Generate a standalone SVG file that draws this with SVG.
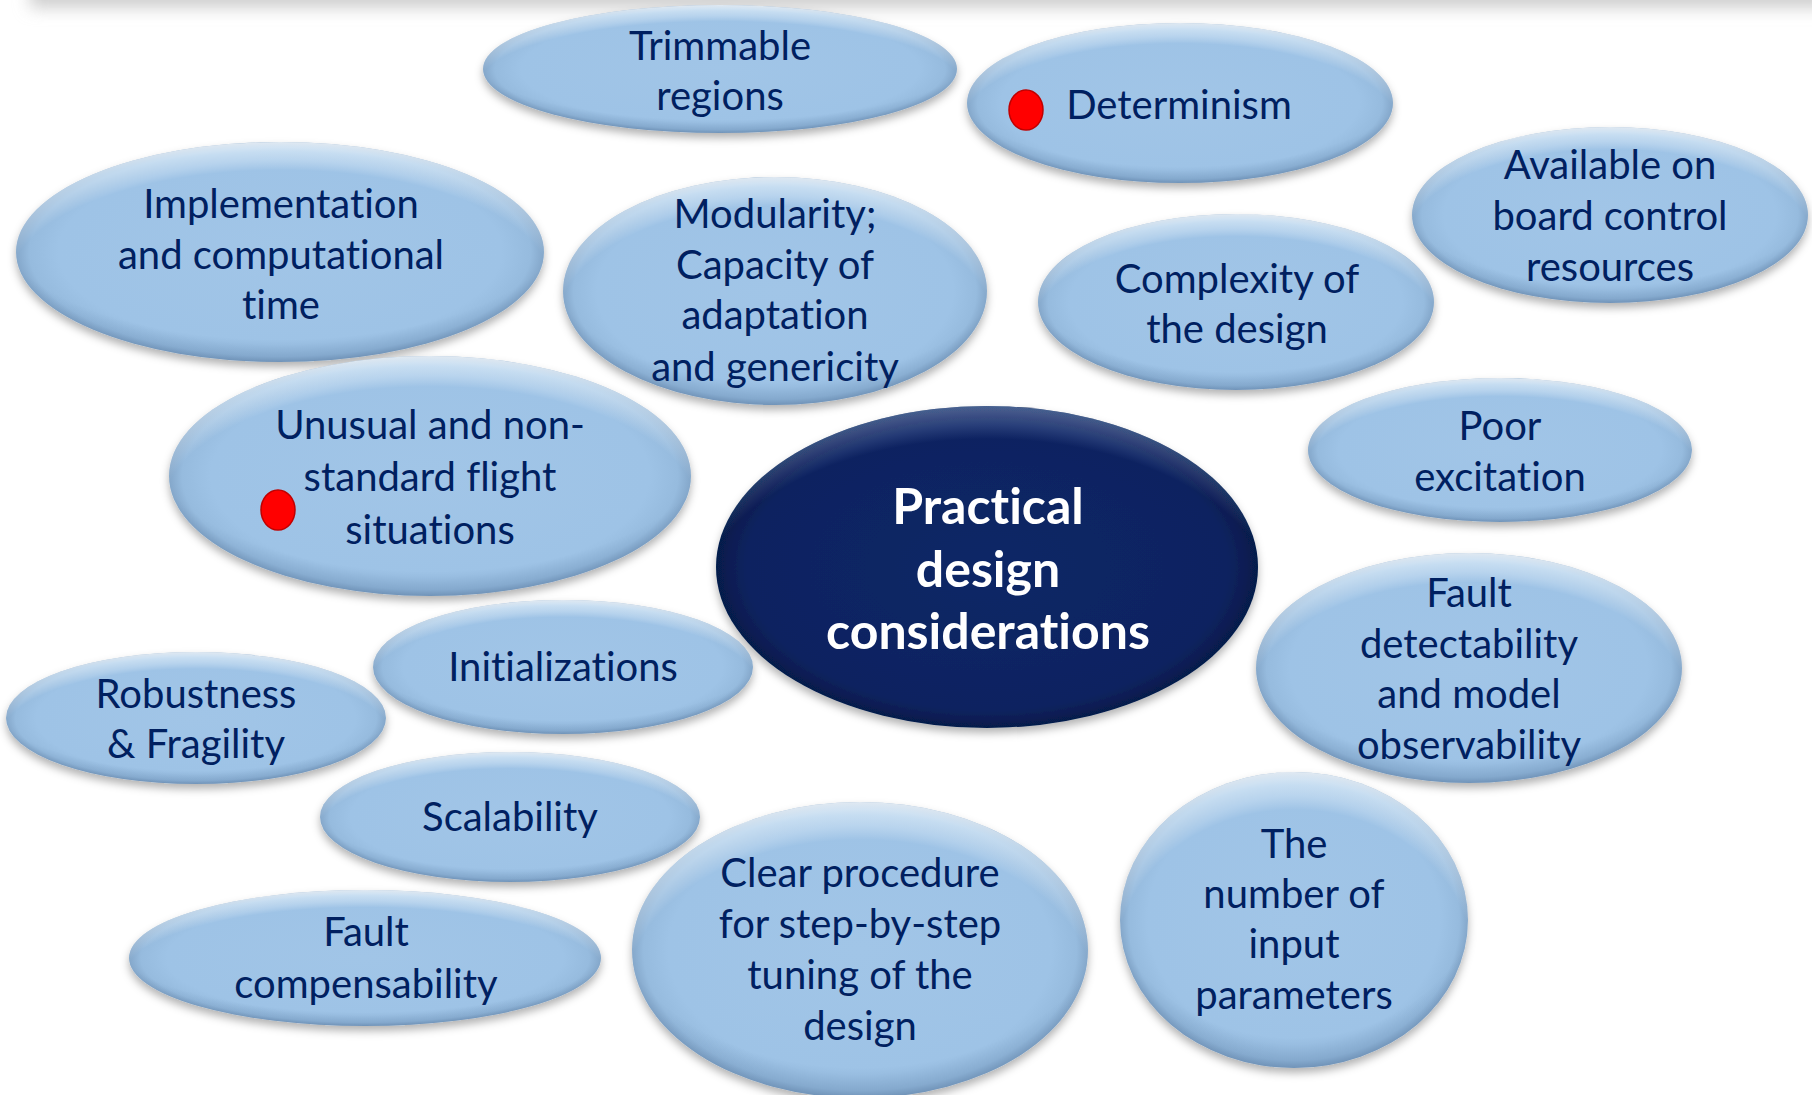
<svg xmlns="http://www.w3.org/2000/svg" width="1812" height="1095" viewBox="0 0 1812 1095">
<defs>
<radialGradient id="gFill" cx="0.5" cy="0.5" r="0.5">
<stop offset="0" stop-color="#A1C5E7"/>
<stop offset="0.84" stop-color="#9EC3E6"/>
<stop offset="0.95" stop-color="#96BBDE"/>
<stop offset="1" stop-color="#84A7CA"/>
</radialGradient>
<radialGradient id="gHi" cx="0.5" cy="0.64" r="0.64">
<stop offset="0.8" stop-color="#FFFFFF" stop-opacity="0"/>
<stop offset="0.93" stop-color="#EAF6FF" stop-opacity="0.55"/>
<stop offset="1" stop-color="#FFFFFF" stop-opacity="0.75"/>
</radialGradient>
<radialGradient id="gLo" cx="0.5" cy="0.36" r="0.64">
<stop offset="0.84" stop-color="#2B4E7A" stop-opacity="0"/>
<stop offset="1" stop-color="#2B4E7A" stop-opacity="0.22"/>
</radialGradient>
<radialGradient id="gCen" cx="0.5" cy="0.5" r="0.5">
<stop offset="0" stop-color="#0C2766"/>
<stop offset="0.88" stop-color="#0A2361"/>
<stop offset="1" stop-color="#061A4A"/>
</radialGradient>
<radialGradient id="gCenHi" cx="0.5" cy="0.64" r="0.64">
<stop offset="0.84" stop-color="#8EA8D8" stop-opacity="0"/>
<stop offset="1" stop-color="#8EA8D8" stop-opacity="0.5"/>
</radialGradient>
<filter id="sh" x="-10%" y="-10%" width="120%" height="130%">
<feDropShadow dx="0" dy="5" stdDeviation="4" flood-color="#000" flood-opacity="0.3"/>
</filter>
<filter id="blur" x="-5%" y="-100%" width="110%" height="300%">
<feGaussianBlur stdDeviation="8"/>
</filter>
<style>
.b{fill:url(#gFill);filter:url(#sh);}
.hi{fill:url(#gHi);}
.lo{fill:url(#gLo);}
.t{font-family:Lato,"Open Sans",sans-serif;font-size:40px;fill:#002060;text-anchor:middle;font-variant-ligatures:none;}
.c{font-family:Lato,"Open Sans",sans-serif;font-weight:700;font-size:50px;fill:#FFFFFF;text-anchor:middle;font-variant-ligatures:none;}
.dot{fill:#FF0000;stroke:#C00000;stroke-width:1.5;}
</style>
</defs>
<rect width="1812" height="1095" fill="#FFFFFF"/>
<rect x="30" y="-30" width="1800" height="38" fill="#CFCFCF" filter="url(#blur)"/>
<g id="connectors"></g>

<g id="n-trimmable">
<ellipse class="b" cx="720" cy="69" rx="237" ry="64"/>
<ellipse class="hi" cx="720" cy="69" rx="237" ry="64"/>
<ellipse class="lo" cx="720" cy="69" rx="237" ry="64"/>
<text class="t" x="720" y="60">Trimmable</text>
<text class="t" x="720" y="110">regions</text>
</g>

<g id="n-determinism">
<ellipse class="b" cx="1180" cy="103" rx="213" ry="80"/>
<ellipse class="hi" cx="1180" cy="103" rx="213" ry="80"/>
<ellipse class="lo" cx="1180" cy="103" rx="213" ry="80"/>
<ellipse class="dot" cx="1026" cy="110" rx="17" ry="20"/>
<text class="t" x="1179" y="119">Determinism</text>
</g>

<g id="n-implementation">
<ellipse class="b" cx="280" cy="252" rx="264" ry="110"/>
<ellipse class="hi" cx="280" cy="252" rx="264" ry="110"/>
<ellipse class="lo" cx="280" cy="252" rx="264" ry="110"/>
<text class="t" x="281" y="218">Implementation</text>
<text class="t" x="281" y="269">and computational</text>
<text class="t" x="281" y="319">time</text>
</g>

<g id="n-modularity">
<ellipse class="b" cx="775" cy="291" rx="212" ry="114"/>
<ellipse class="hi" cx="775" cy="291" rx="212" ry="114"/>
<ellipse class="lo" cx="775" cy="291" rx="212" ry="114"/>
<text class="t" x="775" y="228">Modularity;</text>
<text class="t" x="775" y="279">Capacity of</text>
<text class="t" x="775" y="329">adaptation</text>
<text class="t" x="775" y="381">and genericity</text>
</g>

<g id="n-complexity">
<ellipse class="b" cx="1236" cy="302" rx="198" ry="88"/>
<ellipse class="hi" cx="1236" cy="302" rx="198" ry="88"/>
<ellipse class="lo" cx="1236" cy="302" rx="198" ry="88"/>
<text class="t" x="1237" y="293">Complexity of</text>
<text class="t" x="1237" y="343">the design</text>
</g>

<g id="n-available">
<ellipse class="b" cx="1610" cy="215" rx="198" ry="88"/>
<ellipse class="hi" cx="1610" cy="215" rx="198" ry="88"/>
<ellipse class="lo" cx="1610" cy="215" rx="198" ry="88"/>
<text class="t" x="1610" y="179">Available on</text>
<text class="t" x="1610" y="230">board control</text>
<text class="t" x="1610" y="281">resources</text>
</g>

<g id="n-unusual">
<ellipse class="b" cx="430" cy="476" rx="261" ry="120"/>
<ellipse class="hi" cx="430" cy="476" rx="261" ry="120"/>
<ellipse class="lo" cx="430" cy="476" rx="261" ry="120"/>
<ellipse class="dot" cx="278" cy="510" rx="17" ry="20"/>
<text class="t" x="430" y="439">Unusual and non-</text>
<text class="t" x="430" y="491">standard flight</text>
<text class="t" x="430" y="544">situations</text>
</g>

<g id="n-poor">
<ellipse class="b" cx="1500" cy="450" rx="192" ry="72"/>
<ellipse class="hi" cx="1500" cy="450" rx="192" ry="72"/>
<ellipse class="lo" cx="1500" cy="450" rx="192" ry="72"/>
<text class="t" x="1500" y="440">Poor</text>
<text class="t" x="1500" y="491">excitation</text>
</g>

<g id="n-center">
<ellipse cx="987" cy="567" rx="271" ry="161" fill="url(#gCen)" filter="url(#sh)"/>
<ellipse cx="987" cy="567" rx="271" ry="161" fill="url(#gCenHi)"/>
<text class="c" x="988" y="524">Practical</text>
<text class="c" x="988" y="587">design</text>
<text class="c" x="988" y="649">considerations</text>
</g>

<g id="n-initializations">
<ellipse class="b" cx="563" cy="667" rx="190" ry="67"/>
<ellipse class="hi" cx="563" cy="667" rx="190" ry="67"/>
<ellipse class="lo" cx="563" cy="667" rx="190" ry="67"/>
<text class="t" x="563" y="681">Initializations</text>
</g>

<g id="n-robustness">
<ellipse class="b" cx="196" cy="718" rx="190" ry="66"/>
<ellipse class="hi" cx="196" cy="718" rx="190" ry="66"/>
<ellipse class="lo" cx="196" cy="718" rx="190" ry="66"/>
<text class="t" x="196" y="708">Robustness</text>
<text class="t" x="196" y="758">&amp; Fragility</text>
</g>

<g id="n-faultdetect">
<ellipse class="b" cx="1469" cy="668" rx="213" ry="115"/>
<ellipse class="hi" cx="1469" cy="668" rx="213" ry="115"/>
<ellipse class="lo" cx="1469" cy="668" rx="213" ry="115"/>
<text class="t" x="1469" y="607">Fault</text>
<text class="t" x="1469" y="658">detectability</text>
<text class="t" x="1469" y="708">and model</text>
<text class="t" x="1469" y="759">observability</text>
</g>

<g id="n-scalability">
<ellipse class="b" cx="510" cy="817" rx="190" ry="65"/>
<ellipse class="hi" cx="510" cy="817" rx="190" ry="65"/>
<ellipse class="lo" cx="510" cy="817" rx="190" ry="65"/>
<text class="t" x="510" y="831">Scalability</text>
</g>

<g id="n-clear">
<ellipse class="b" cx="860" cy="950" rx="228" ry="148"/>
<ellipse class="hi" cx="860" cy="950" rx="228" ry="148"/>
<ellipse class="lo" cx="860" cy="950" rx="228" ry="148"/>
<text class="t" x="860" y="887">Clear procedure</text>
<text class="t" x="860" y="938">for step-by-step</text>
<text class="t" x="860" y="989">tuning of the</text>
<text class="t" x="860" y="1040">design</text>
</g>

<g id="n-number">
<ellipse class="b" cx="1294" cy="920" rx="174" ry="148"/>
<ellipse class="hi" cx="1294" cy="920" rx="174" ry="148"/>
<ellipse class="lo" cx="1294" cy="920" rx="174" ry="148"/>
<text class="t" x="1294" y="858">The</text>
<text class="t" x="1294" y="908">number of</text>
<text class="t" x="1294" y="958">input</text>
<text class="t" x="1294" y="1009">parameters</text>
</g>

<g id="n-faultcomp">
<ellipse class="b" cx="365" cy="958" rx="236" ry="68"/>
<ellipse class="hi" cx="365" cy="958" rx="236" ry="68"/>
<ellipse class="lo" cx="365" cy="958" rx="236" ry="68"/>
<text class="t" x="366" y="946">Fault</text>
<text class="t" x="366" y="998">compensability</text>
</g>
</svg>
